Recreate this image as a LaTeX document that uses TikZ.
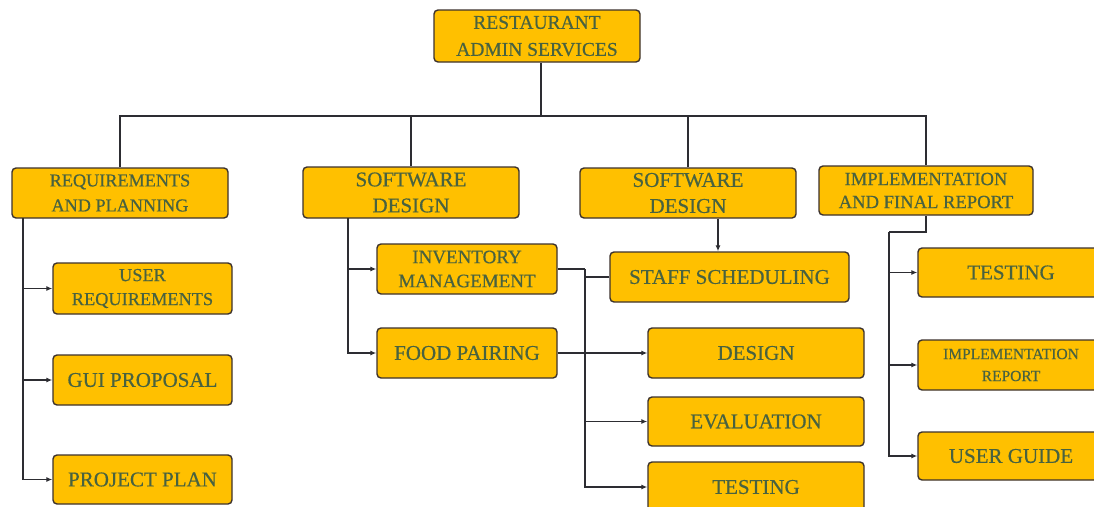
\documentclass[tikz,border=0pt]{standalone}
\usepackage{fontspec}
\setmainfont{Liberation Serif}[FakeBold=0.5]
\usetikzlibrary{arrows.meta}
\definecolor{gold}{RGB}{255,192,0}
\definecolor{boxline}{RGB}{60,50,45}
\definecolor{txt}{RGB}{72,98,64}
\definecolor{wire}{RGB}{45,45,50}
\tikzset{
  box/.style={draw=boxline, fill=gold, rounded corners=4pt, line width=1.4pt,
    inner sep=0pt, align=center, text=txt},
  big/.style={font=\fontsize{21}{24}\selectfont},
  wirestyle/.style={draw=wire, line width=1.5pt},
  arr/.style={wirestyle, -{Latex[length=6pt,width=5pt]}}
}
\begin{document}
\begin{tikzpicture}[x=1pt,y=-1pt]
\useasboundingbox (0,0) rectangle (1094,506);
\clip (0,0) rectangle (1094,506);
\fill[white] (0,0) rectangle (1094,506);
% top level
\node[box, minimum width=206pt, minimum height=52pt, font=\fontsize{19.5}{27}\selectfont] (root) at (537,36) {RESTAURANT\\ADMIN SERVICES};
\node[box, minimum width=216pt, minimum height=50pt, font=\fontsize{18.2}{25}\selectfont] (req) at (120,193) {REQUIREMENTS\\AND PLANNING};
\node[box, minimum width=216pt, minimum height=51pt, font=\fontsize{21}{26}\selectfont] (sdA) at (411,192.5) {SOFTWARE\\DESIGN};
\node[box, minimum width=216pt, minimum height=50pt, font=\fontsize{21}{26}\selectfont] (sdB) at (688,193) {SOFTWARE\\DESIGN};
\node[box, minimum width=214pt, minimum height=49pt, font=\fontsize{18.6}{23}\selectfont] (impl) at (926,190.5) {IMPLEMENTATION\\AND FINAL REPORT};
% requirements children
\node[box, minimum width=179pt, minimum height=51pt, font=\fontsize{18.3}{24}\selectfont] (userreq) at (142.5,288.5) {USER\\REQUIREMENTS};
\node[box, big, minimum width=179pt, minimum height=50pt] (gui) at (142.5,380) {GUI PROPOSAL};
\node[box, big, minimum width=179pt, minimum height=49pt] (plan) at (142.5,479.5) {PROJECT PLAN};
% software design A children
\node[box, minimum width=180pt, minimum height=50pt, font=\fontsize{19}{24}\selectfont] (inv) at (467,269) {INVENTORY\\MANAGEMENT};
\node[box, big, minimum width=180pt, minimum height=50pt] (food) at (467,353) {FOOD PAIRING};
% software design B children
\node[box, big, minimum width=239pt, minimum height=50pt] (staff) at (729.5,277) {STAFF SCHEDULING};
\node[box, big, minimum width=216pt, minimum height=50pt] (design) at (756,353) {DESIGN};
\node[box, big, minimum width=216pt, minimum height=49pt] (eval) at (756,421.5) {EVALUATION};
\node[box, big, minimum width=216pt, minimum height=50pt] (testA) at (756,487) {TESTING};
% implementation children
\node[box, big, minimum width=186pt, minimum height=49pt] (testB) at (1011,272.5) {TESTING};
\node[box, minimum width=186pt, minimum height=50pt, font=\fontsize{15.5}{22}\selectfont] (implrep) at (1011,365) {IMPLEMENTATION\\REPORT};
\node[box, big, minimum width=186pt, minimum height=48pt] (guide) at (1011,456) {USER GUIDE};
% top connectors
\coordinate (bus) at (541,116);
\draw[wirestyle] ([xshift=4pt]root.south) -- (bus);
\draw[wirestyle] (req.north) -- (req.north |- bus) -- (impl.north |- bus) -- (impl.north);
\draw[wirestyle] (sdA.north) -- (sdA.north |- bus);
\draw[wirestyle] (sdB.north) -- (sdB.north |- bus);
% requirements branch
\coordinate (rq) at (23,218);
\draw[arr] (rq) |- (userreq.west);
\draw[arr] (rq) |- (gui.west);
\draw[arr] (rq) |- (plan.west);
% software design A branch
\coordinate (sa) at (348,218);
\draw[arr] (sa) |- (inv.west);
\draw[arr] (sa) |- (food.west);
% software design B branch
\draw[arr] ([xshift=30pt]sdB.south) -- ([xshift=30pt]sdB.south |- staff.north);
\coordinate (j) at (585,269);
\draw[wirestyle] (inv.east) -- (j);
\draw[arr] (j) |- (eval.west);
\draw[arr] (j) |- (testA.west);
\draw[wirestyle] (staff.west) -- (staff.west -| j);
\draw[arr] (food.east) -- (design.west);
% implementation branch
\coordinate (k) at (889,232);
\draw[wirestyle] (impl.south) |- (k);
\draw[arr] (k) |- (testB.west);
\draw[arr] (k) |- (implrep.west);
\draw[arr] (k) |- (guide.west);
\end{tikzpicture}
\end{document}
